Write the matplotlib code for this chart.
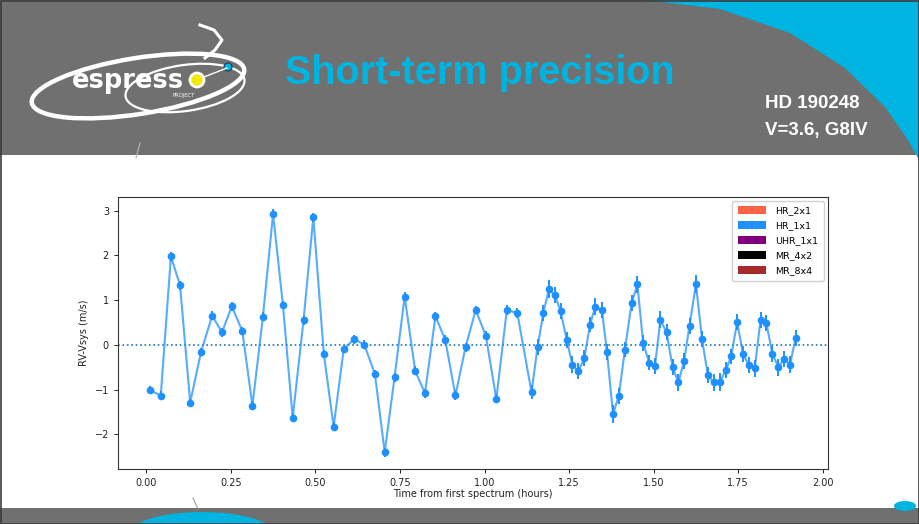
import matplotlib
matplotlib.use("Agg")
import matplotlib.pyplot as plt
from matplotlib import font_manager
from matplotlib.patches import Rectangle, Ellipse, Polygon, Circle, Patch

# ---- radial-velocity time series (HD 190248) ----
time_h = [0.012, 0.043, 0.073, 0.100, 0.130, 0.162, 0.195, 0.224, 0.253, 0.284,
          0.314, 0.345, 0.375, 0.404, 0.433, 0.465, 0.494, 0.525, 0.554, 0.584,
          0.615, 0.645, 0.676, 0.705, 0.734, 0.764, 0.795, 0.824, 0.855, 0.884,
          0.914, 0.944, 0.974, 1.004, 1.035, 1.066, 1.097, 1.139, 1.157, 1.174,
          1.190, 1.208, 1.225, 1.243, 1.260, 1.277, 1.295, 1.312, 1.327, 1.347,
          1.362, 1.380, 1.397, 1.415, 1.435, 1.452, 1.469, 1.487, 1.504, 1.520,
          1.538, 1.556, 1.573, 1.590, 1.606, 1.625, 1.643, 1.660, 1.677, 1.695,
          1.713, 1.729, 1.747, 1.764, 1.781, 1.799, 1.816, 1.833, 1.851, 1.869,
          1.886, 1.903, 1.920]
rv = [-1.01, -1.14, 1.98, 1.33, -1.29, -0.16, 0.65, 0.28, 0.86, 0.31,
      -1.36, 0.63, 2.93, 0.90, -1.63, 0.55, 2.85, -0.20, -1.83, -0.09,
      0.13, 0.00, -0.65, -2.40, -0.73, 1.08, -0.58, -1.08, 0.64, 0.11,
      -1.13, -0.05, 0.78, 0.20, -1.21, 0.78, 0.71, -1.06, -0.04, 0.71,
      1.24, 1.11, 0.75, 0.11, -0.45, -0.59, -0.30, 0.45, 0.85, 0.78,
      -0.16, -1.55, -1.14, -0.11, 0.94, 1.35, 0.04, -0.40, -0.47, 0.56,
      0.28, -0.50, -0.84, -0.36, 0.43, 1.36, 0.13, -0.67, -0.84, -0.84,
      -0.57, -0.26, 0.51, -0.20, -0.45, -0.52, 0.56, 0.49, -0.20, -0.50,
      -0.31, -0.44, 0.16]
rv_err = [0.10, 0.10, 0.10, 0.10, 0.09, 0.10, 0.10, 0.10, 0.10, 0.10,
          0.10, 0.10, 0.10, 0.09, 0.10, 0.10, 0.10, 0.09, 0.10, 0.09,
          0.10, 0.10, 0.09, 0.10, 0.09, 0.10, 0.10, 0.10, 0.10, 0.10,
          0.10, 0.10, 0.10, 0.10, 0.10, 0.12, 0.12, 0.16, 0.18, 0.18,
          0.20, 0.18, 0.18, 0.17, 0.19, 0.18, 0.18, 0.17, 0.19, 0.18,
          0.18, 0.20, 0.18, 0.17, 0.18, 0.20, 0.18, 0.17, 0.18, 0.19,
          0.18, 0.18, 0.19, 0.17, 0.18, 0.20, 0.18, 0.18, 0.19, 0.20,
          0.18, 0.17, 0.18, 0.18, 0.18, 0.19, 0.18, 0.17, 0.18, 0.19,
          0.18, 0.18, 0.18]

modes = ["HR_2x1", "HR_1x1", "UHR_1x1", "MR_4x2", "MR_8x4"]
mode_colors = ["tomato", "dodgerblue", "purple", "black", "brown"]

title = "Short-term precision"
star_name = "HD 190248"
star_info = "V=3.6, G8IV"

# ---- slide colours ----
GREY = "#6f706f"
CYAN = "#00b4e1"

available = {f.name for f in font_manager.fontManager.ttflist}
if "Liberation Sans Narrow" in available:
    title_family, title_size = "Liberation Sans Narrow", 30
else:
    title_family, title_size = "Liberation Sans", 28.5

W, H = 920, 524
fig = plt.figure(figsize=(W / 100, H / 100), dpi=100)

# slide background drawn in pixel coordinates
bg = fig.add_axes([0, 0, 1, 1], zorder=0)
bg.set_xlim(0, W)
bg.set_ylim(H, 0)
bg.axis("off")

bg.add_patch(Rectangle((0, 0), W, H, facecolor="white", edgecolor="none"))
bg.add_patch(Rectangle((0, 0), W, 155, facecolor=GREY, edgecolor="none"))
bg.add_patch(Rectangle((0, 508), W, 16, facecolor=GREY, edgecolor="none"))

# cyan swoosh in the top-right corner
arc = [(645, 0), (720, 9), (790, 33), (845, 68), (885, 107), (908, 140),
       (920, 162), (920, 0)]
bg.add_patch(Polygon(arc, closed=True, facecolor=CYAN, edgecolor="none"))

# cyan shapes in the footer band
foot = Ellipse((202, 536), 150, 48, facecolor=CYAN, edgecolor="none")
bg.add_patch(foot)
foot.set_clip_path(Rectangle((0, 508), W, 16, transform=bg.transData))
bg.add_patch(Ellipse((905, 506), 22, 10, facecolor=CYAN, edgecolor="none"))
bg.plot([193, 198], [498, 509], color="#9a9a9a", lw=0.8)
bg.plot([140, 136], [143, 158], color="#b8b8b8", lw=0.8)

# logo
bg.add_patch(Ellipse((138, 86), 215, 56, angle=-9, facecolor="none",
                     edgecolor="white", lw=3.2))
bg.add_patch(Ellipse((185, 88), 120, 46, angle=-8, facecolor="none",
                     edgecolor="white", lw=1.6))
bg.plot([205, 215, 222, 214, 200], [58, 50, 40, 30, 25], color="white", lw=2.2)
bg.text(72, 81, "espress", color="white", fontsize=18.5, fontweight="bold",
        family="DejaVu Sans", va="center", ha="left")
bg.add_patch(Circle((197, 80), 7, facecolor="#f4ea00", edgecolor="white", lw=2.0))
bg.plot([204, 227], [77, 68], color="white", lw=1.0)
bg.add_patch(Circle((228, 67), 4, facecolor=CYAN, edgecolor="#1a3a60", lw=0.8))
bg.text(184, 95, "PROJECT", color="white", fontsize=3.8, va="center", ha="center")

# titles
bg.text(285, 73, title, color=CYAN, fontsize=title_size, fontweight="bold",
        family=title_family, va="center", ha="left")
bg.text(765, 104, star_name, color="white", fontsize=13.5, fontweight="bold",
        family="Liberation Sans", va="center", ha="left")
bg.text(765, 131, star_info, color="white", fontsize=13.5, fontweight="bold",
        family="Liberation Sans", va="center", ha="left")

# slide frame
bg.add_patch(Rectangle((0.5, 0.5), W - 1, H - 1, facecolor="none",
                       edgecolor="#3c3c3c", lw=1.2))

# ---- RV chart ----
x0, x1, y0, y1 = 118, 828, 197, 469
ax = fig.add_axes([x0 / W, 1 - y1 / H, (x1 - x0) / W, (y1 - y0) / H], zorder=2)

ax.plot(time_h, rv, "-", color="dodgerblue", alpha=0.75, lw=1.5, zorder=2)
ax.errorbar(time_h, rv, yerr=rv_err, fmt="o", color="dodgerblue", ms=4.5,
            elinewidth=1.4, capsize=0, zorder=3)
ax.axhline(0, ls=":", color="#1f77b4", lw=1.2, zorder=1)

ax.set_xticks([0.0, 0.25, 0.5, 0.75, 1.0, 1.25, 1.5, 1.75, 2.0])
ax.set_yticks([-2, -1, 0, 1, 2, 3])
ax.tick_params(labelsize=7, length=3, width=0.7, colors="#222222")
for s in ax.spines.values():
    s.set_linewidth(0.8)
    s.set_color("#333333")
ax.set_xlabel("Time from first spectrum (hours)", fontsize=7, labelpad=1, color="#222222")
ax.set_ylabel("RV-Vsys (m/s)", fontsize=7, labelpad=4, color="#222222")

handles = [Patch(facecolor=c, label=l) for c, l in zip(mode_colors, modes)]
ax.legend(handles=handles, loc="upper right", fontsize=6.8, framealpha=0.9,
          handlelength=3.0, handleheight=0.9, handletextpad=1.0,
          labelspacing=0.6, borderpad=0.6, borderaxespad=0.4)

fig.savefig("out.png", dpi=100)
